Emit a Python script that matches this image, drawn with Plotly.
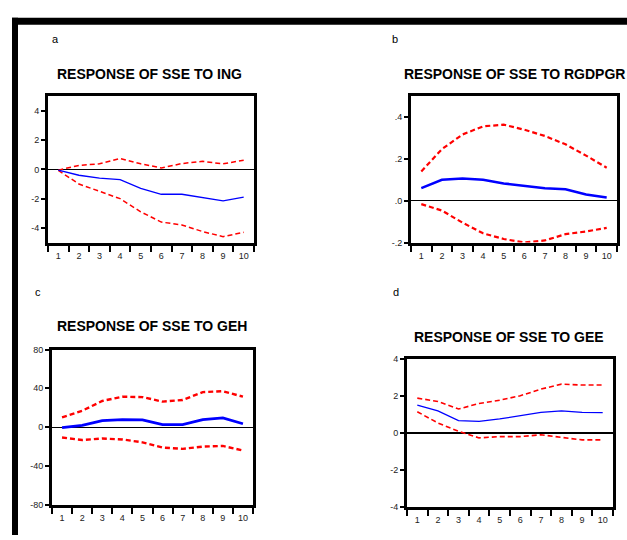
import plotly.graph_objects as go

periods = ["1", "2", "3", "4", "5", "6", "7", "8", "9", "10"]

# a: Response of SSE to ING
ing_resp = [-0.05, -0.4, -0.6, -0.7, -1.3, -1.7, -1.7, -1.9, -2.15, -1.9]
ing_upper = [-0.05, 0.27, 0.38, 0.75, 0.38, 0.1, 0.4, 0.55, 0.38, 0.63]
ing_lower = [-0.07, -1.0, -1.5, -2.0, -2.9, -3.6, -3.8, -4.25, -4.6, -4.3]

# b: Response of SSE to RGDPGR
rgdpgr_resp = [0.06, 0.1, 0.106, 0.1, 0.083, 0.07, 0.06, 0.055, 0.03, 0.016]
rgdpgr_upper = [0.14, 0.247, 0.317, 0.356, 0.364, 0.34, 0.31, 0.27, 0.216, 0.158]
rgdpgr_lower = [-0.016, -0.047, -0.105, -0.156, -0.183, -0.2, -0.19, -0.16, -0.147, -0.13]

# c: Response of SSE to GEH
geh_resp = [-0.7, 1.7, 6.7, 7.7, 7.4, 2.4, 2.4, 7.7, 9.4, 3.4]
geh_upper = [10, 16.8, 26.9, 31.3, 30.9, 26.2, 27.9, 36, 37, 31.3]
geh_lower = [-10.8, -13.4, -11.8, -12.8, -15.8, -21.2, -22.5, -20.2, -19.5, -24.2]

# d: Response of SSE to GEE
gee_resp = [1.51, 1.2, 0.67, 0.63, 0.76, 0.94, 1.12, 1.2, 1.12, 1.1]
gee_upper = [1.89, 1.71, 1.3, 1.6, 1.78, 2.02, 2.38, 2.65, 2.6, 2.6]
gee_lower = [1.15, 0.54, 0.09, -0.27, -0.2, -0.2, -0.1, -0.23, -0.38, -0.38]

titles = ["RESPONSE OF SSE TO ING", "RESPONSE OF SSE TO RGDPGR",
          "RESPONSE OF SSE TO GEH", "RESPONSE OF SSE TO GEE"]
letters = ["a", "b", "c", "d"]

y_ticks = [
    ([-4, -2, 0, 2, 4], ["-4", "-2", "0", "2", "4"], [-5, 5]),
    ([-0.2, 0.0, 0.2, 0.4], ["-.2", ".0", ".2", ".4"], [-0.2, 0.5]),
    ([-80, -40, 0, 40, 80], ["-80", "-40", "0", "40", "80"], [-80, 80]),
    ([-4, -2, 0, 2, 4], ["-4", "-2", "0", "2", "4"], [-4, 4]),
]

panels = [
    (ing_resp, ing_upper, ing_lower),
    (rgdpgr_resp, rgdpgr_upper, rgdpgr_lower),
    (geh_resp, geh_upper, geh_lower),
    (gee_resp, gee_upper, gee_lower),
]

W, H = 627, 540
# plot boxes in pixels: (left, right, top, bottom)
boxes = [(48, 254, 93, 242), (411, 617, 93, 242), (52, 253, 351, 509), (407, 613, 361, 511)]
title_pos = [(149, 70), (514, 70), (152, 327), (509, 338)]
letter_pos = [(50, 35), (390, 35), (33, 292), (391, 292)]
blue_w = [1.3, 2.5, 2.8, 1.3]
red_w = [1.5, 2.2, 2.4, 1.6]
zero_w = [1.2, 1.2, 1.2, 2.2]

fig = go.Figure()
layout = dict(width=W, height=H, margin=dict(l=0, r=0, t=0, b=0),
              paper_bgcolor="white", plot_bgcolor="white", showlegend=False)
annotations = []
shapes = []

tick_font = dict(family="Liberation Sans, Arial", size=9, color="#222222")

for i, (resp, up, lo) in enumerate(panels):
    n = "" if i == 0 else str(i + 1)
    xa, ya = "x" + n, "y" + n
    l, r, t, b = boxes[i]
    fig.add_trace(go.Scatter(x=periods, y=up, mode="lines", xaxis=xa, yaxis=ya,
                             line=dict(color="#FF0000", width=red_w[i], dash="5px,3px")))
    fig.add_trace(go.Scatter(x=periods, y=lo, mode="lines", xaxis=xa, yaxis=ya,
                             line=dict(color="#FF0000", width=red_w[i], dash="5px,3px")))
    fig.add_trace(go.Scatter(x=periods, y=resp, mode="lines", xaxis=xa, yaxis=ya,
                             line=dict(color="#0000FF", width=blue_w[i])))
    tv, tt, rng = y_ticks[i]
    layout["xaxis" + n] = dict(domain=[l / W, r / W], anchor=ya, type="category",
                               range=[-0.5, 9.5], tickson="boundaries", ticks="outside",
                               ticklen=6, tickwidth=1.5, tickcolor="black",
                               ticklabelstandoff=3,
                               showline=True, mirror=True, linewidth=3, linecolor="black",
                               showgrid=False, zeroline=False, tickfont=tick_font,
                               fixedrange=True)
    layout["yaxis" + n] = dict(domain=[1 - b / H, 1 - t / H], anchor=xa, range=rng,
                               tickmode="array", tickvals=tv, ticktext=tt, ticks="outside",
                               ticklen=4, tickwidth=1.5, tickcolor="black",
                               showline=True, mirror=True, linewidth=3, linecolor="black",
                               showgrid=False, zeroline=True, zerolinecolor="black",
                               zerolinewidth=zero_w[i], tickfont=tick_font, fixedrange=True)
    tx, ty = title_pos[i]
    annotations.append(dict(text=titles[i], x=tx / W, y=1 - ty / H, xref="paper", yref="paper",
                            showarrow=False, xanchor="center", yanchor="middle",
                            font=dict(family="Liberation Sans, Arial",
                                      size=14, color="black", weight="bold")))
    lx, ly = letter_pos[i]
    annotations.append(dict(text=letters[i], x=lx / W, y=1 - ly / H, xref="paper", yref="paper",
                            showarrow=False, xanchor="left", yanchor="middle",
                            font=dict(family="Liberation Sans, Arial", size=11,
                                      color="black")))

# outer black frame (top and left bars)
shapes.append(dict(type="rect", xref="paper", yref="paper", x0=12 / W, x1=1.0,
                   y0=1 - 20 / H, y1=1 - 13 / H, fillcolor="black", line=dict(width=0)))
shapes.append(dict(type="rect", xref="paper", yref="paper", x0=12 / W, x1=18 / W,
                   y0=0, y1=1 - 13 / H, fillcolor="black", line=dict(width=0)))

layout["annotations"] = annotations
layout["shapes"] = shapes
fig.update_layout(**layout)
fig.write_html("out.html", config={"displayModeBar": False},
               post_script="document.body.style.margin='0px';document.body.style.overflow='hidden';")
